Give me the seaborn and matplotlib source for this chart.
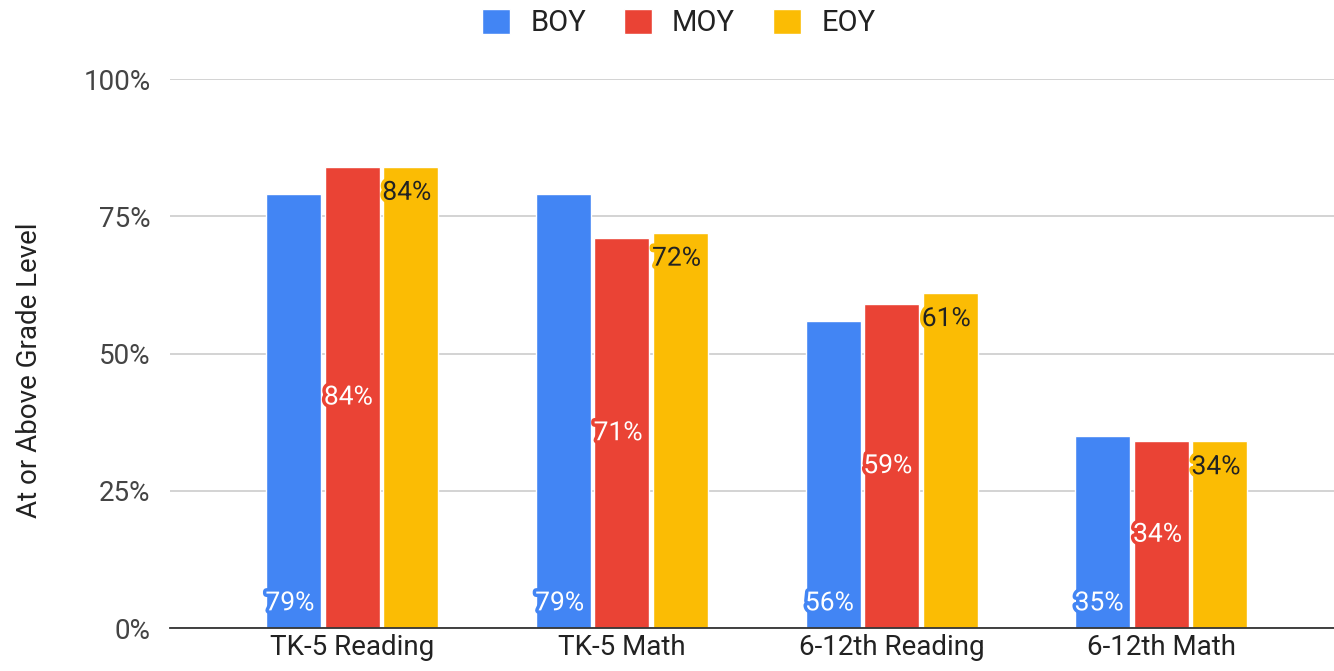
import pandas as pd
import matplotlib.pyplot as plt
import matplotlib.patheffects as pe
import seaborn as sns

# ── Data ──────────────────────────────────────────────────────────────────────
categories = ['TK-5 Reading', 'TK-5 Math', '6-12th Reading', '6-12th Math']
periods = ['BOY', 'MOY', 'EOY']
boy = [79, 79, 56, 35]
moy = [84, 71, 59, 34]
eoy = [84, 72, 61, 34]
yticks = [0, 25, 50, 75, 100]

colors = {'BOY': '#4285F4', 'MOY': '#EA4335', 'EOY': '#FBBC04'}

df = pd.DataFrame({
    'category': categories * 3,
    'period': ['BOY'] * 4 + ['MOY'] * 4 + ['EOY'] * 4,
    'value': boy + moy + eoy,
})

# ── Plot ──────────────────────────────────────────────────────────────────────
sns.set_theme(style='white')
plt.rcParams['font.family'] = ['Roboto', 'DejaVu Sans']

fig, ax = plt.subplots(figsize=(13.34, 6.71), dpi=100)
fig.subplots_adjust(left=0.1275, right=1.0, top=0.882, bottom=0.064)

sns.barplot(data=df, x='category', y='value', hue='period', order=categories,
            hue_order=periods, palette=colors, width=0.65, gap=0.06,
            saturation=1, ax=ax, legend=True)

ax.set_ylim(0, 100)
ax.set_xlim(-0.675, 3.64)
ax.set_yticks(yticks)
ax.set_yticklabels([f'{t}%' for t in yticks], fontsize=20, color='#444444')
ax.tick_params(axis='x', labelsize=20, labelcolor='#222222', length=0, pad=4)
ax.tick_params(axis='y', length=0, pad=14)
ax.yaxis.grid(True, color='#cccccc', linewidth=1.2)
ax.set_axisbelow(True)
ax.set_xlabel('')
ax.set_ylabel('At or Above Grade Level', fontsize=20, color='#222222')
ax.yaxis.set_label_coords(-0.109, 0.47)
for s in ['top', 'right', 'left']:
    ax.spines[s].set_visible(False)
ax.spines['bottom'].set_color('#333333')
ax.spines['bottom'].set_linewidth(1.3)

# ── Etichete de date ─────────────────────────────────────────────────────────
for cont, period in zip(ax.containers, periods):
    col = colors[period]
    txt_col = '#222222' if period == 'EOY' else 'white'
    for bar in cont:
        h = bar.get_height()
        x0 = bar.get_x()
        if period == 'BOY':
            y = 4.5
        elif period == 'MOY':
            y = h / 2
        else:
            y = h - 4.7
        ax.text(x0 - 0.003, y, f'{h:.0f}%', ha='left', va='center', fontsize=19,
                color=txt_col,
                path_effects=[pe.withStroke(linewidth=5, foreground=col)])

# ── Legend ────────────────────────────────────────────────────────────────────
handles, labels = ax.get_legend_handles_labels()
ax.legend(handles, labels, loc='upper center', bbox_to_anchor=(0.437, 1.176),
          ncol=3, frameon=False, fontsize=21, handlelength=0.95, handleheight=0.95,
          handletextpad=0.7, columnspacing=1.3, labelcolor='#222222')

plt.savefig('out.png', dpi=100)
